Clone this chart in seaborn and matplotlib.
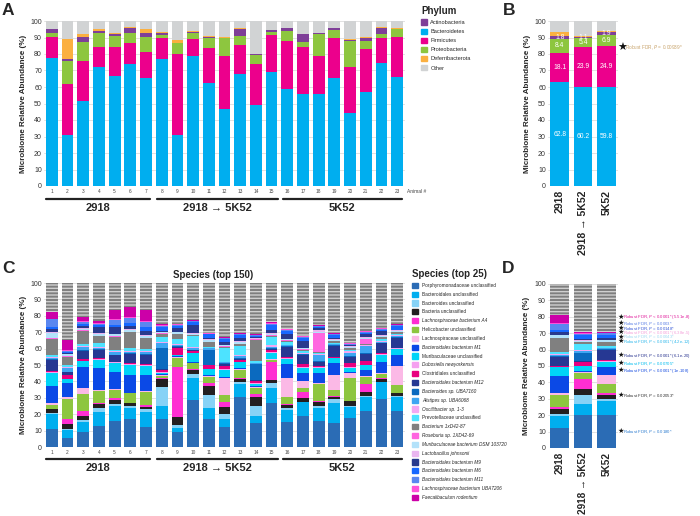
import numpy as np
import pandas as pd
import matplotlib.pyplot as plt
import matplotlib.transforms as mtransforms
from matplotlib.patches import Patch
import seaborn as sns

# %% Data - panel A (phylum per animal, %)
animals = [str(i) for i in range(1, 24)]
bacteroidetes = [77.5, 31, 51.5, 72, 66.5, 74, 65.5, 77, 31, 78.5, 62.5, 46.5, 68, 49, 69, 59, 55.5, 55.5, 65.5, 44.5, 57, 74.5, 66]
firmicutes = [13, 31, 24, 12.5, 18, 12.5, 15.5, 12.5, 49, 10.5, 21, 32, 17.5, 25, 22.5, 29, 28.5, 23, 24.5, 27.5, 26, 15, 24.5]
proteobacteria = [2.5, 14, 12, 8, 6.5, 6, 9.5, 2, 6.5, 3.5, 6, 11, 5.5, 5.5, 2, 6, 3, 13.5, 4.5, 16, 5, 2.5, 4.5]
actinobacteria = [2, 1, 3, 1.5, 1, 3.5, 2, 1.5, 0.3, 1, 1, 0.3, 4, 0.2, 1, 1.5, 5, 0.5, 1, 0.5, 2, 4, 0.3]
deferribacterota = [0.3, 12, 1.5, 1, 1, 0.5, 2.5, 0.3, 1.5, 0.5, 0.2, 0.5, 0.5, 0, 0.2, 0, 0.3, 0.5, 0, 0.3, 0.5, 0.3, 0.5]

# %% Data - panel B (group means, %)
groups = ["2918", "2918 \u2192 5K52", "5K52"]
b_bacteroidetes = [62.8, 60.2, 59.8]
b_firmicutes = [18.1, 23.9, 24.9]
b_proteobacteria = [8.4, 5.4, 6.9]
b_actinobacteria = [1.8, 1.1, 1.9]
b_deferribacterota = [2.5, 0.3, 0.4]

# %% Data - panel C (top 25 species per animal, %), order = legend order
species = ["Porphyromonadaceae unclassified", "Bacteroidales unclassified", "Bacteroides unclassified",
           "Bacteria unclassified", "Lachnospiraceae bacterium A4", "Helicobacter unclassified",
           "Lachnospiraceae unclassified", "Bacteroidales bacterium M1", "Muribaculaceae unclassified",
           "Dubosiella newyorkensis", "Clostridiales unclassified", "Bacteroidales bacterium M12",
           "Bacteroides sp. UBA7160", "Alistipes sp. UBA6068", "Oscillibacter sp. 1-3",
           "Prevotellaceae unclassified", "Bacterium 1xD42-87", "Roseburia sp. 1XD42-69",
           "Muribaculaceae bacterium DSM 103720", "Lactobacillus johnsonii", "Bacteroidales bacterium M9",
           "Bacteroidales bacterium M6", "Bacteroidales bacterium M11", "Lachnospiraceae bacterium UBA7206",
           "Faecalibaculum rodentium"]
species_italic = [0, 0, 0, 0, 1, 0, 0, 1, 0, 1, 0, 1, 1, 1, 1, 0, 1, 1, 1, 1, 1, 1, 1, 1, 1]

c01 = [11, 9, 1, 2, 0.3, 2.5, 1, 10.5, 8, 0.3, 0.5, 7, 0.5, 0.5, 0.5, 1.5, 10, 0.3, 3, 1, 1.5, 1.5, 4.5, 0.3, 4.3]
c02 = [5.7, 4.5, 0.5, 3.3, 3, 12.5, 1, 8.7, 2, 0.3, 2.5, 1.5, 0.5, 2, 1, 1, 5, 0.5, 1, 0.5, 0.5, 0.5, 0.5, 0.5, 6]
c03 = [9.3, 6, 0.9, 2.8, 2.9, 10.7, 3.5, 12.8, 3.4, 0.3, 1.2, 5, 0.5, 1.5, 1, 1, 8, 0.3, 1, 0.5, 1, 1.5, 1, 0.5, 2.7]
c04 = [12.8, 8.3, 2.9, 2, 1, 7.1, 0.9, 13, 5, 0.5, 0.5, 5, 0.5, 1, 0.5, 2.5, 4, 0.3, 1, 0.5, 4, 1, 1, 0.5, 1]
c05 = [15.9, 9.1, 1, 2.7, 1, 5.3, 0.3, 10.3, 5.7, 0.3, 0.3, 3.9, 0.5, 1.5, 0.5, 1, 8, 0.3, 1, 0.5, 4, 1.5, 3, 0.5, 5.5]
c06 = [16.9, 7.1, 1, 1.6, 0.4, 5.7, 0.3, 10.6, 6.7, 0.3, 0.5, 5.5, 0.5, 1, 0.5, 1.5, 10, 0.3, 1, 0.5, 2, 1.5, 3.5, 0.5, 5.7]
c07 = [12.2, 9.3, 1.5, 1.6, 1, 8.1, 0.5, 9.7, 5.5, 0.3, 0.7, 6, 0.5, 1, 0.5, 1.5, 6.3, 0.3, 1, 0.5, 3, 2, 3.5, 0.5, 6.5]
c08 = [17, 8.2, 11.6, 4.5, 0.5, 1.5, 0.5, 0.5, 1, 0.3, 1.5, 0.5, 13, 3, 0.5, 3, 2, 0.3, 0.5, 0.3, 0.5, 2.5, 0.5, 0.5, 0.8]
c09 = [9, 2.4, 2, 5.1, 30.5, 5, 1, 0.3, 0.5, 0.5, 4, 0.5, 0.5, 1, 0.5, 3, 3, 0.3, 1, 0.3, 2, 1.5, 0.5, 0.3, 0.3]
c10 = [28.7, 13.2, 2.4, 2.7, 0.3, 3.7, 0.3, 0.3, 5.7, 0.3, 0.8, 0.5, 0.5, 1, 0.3, 7, 0.5, 0.3, 0.5, 0.3, 5, 2, 0.5, 0.3, 0.3]
c11 = [17, 7, 8, 5.2, 2, 3.7, 0.5, 0.5, 3.5, 0.3, 2, 0.5, 9, 1, 0.3, 0.5, 3, 0.3, 1, 0.3, 1, 2, 0.5, 0.3, 0.3]
c12 = [12.4, 4.6, 3, 4.6, 3, 4.1, 10.2, 0.5, 4.6, 0.3, 2.3, 1, 0.5, 0.5, 0.5, 8, 1, 0.3, 0.5, 0.3, 2, 1.5, 0.5, 0.3, 0.3]
c13 = [30.7, 7.5, 1.6, 1.7, 0.5, 5, 0.5, 0.5, 3.6, 0.5, 0.7, 1, 0.5, 1, 0.5, 6, 1, 0.3, 1, 0.3, 2, 2, 0.5, 0.3, 0.3]
c14 = [14.4, 4.5, 6.3, 5.5, 1.4, 3.7, 1, 0.3, 1.4, 0.3, 1.7, 0.5, 9.5, 0.5, 0.3, 1, 13, 0.3, 0.5, 0.3, 0.5, 0.8, 0.5, 0.3, 0.3]
c15 = [26.6, 9.6, 2.6, 2.1, 11.1, 1, 0.5, 0.3, 3.5, 0.5, 1.6, 0.5, 0.5, 0.5, 1, 5, 1, 0.3, 1, 0.3, 2, 3, 0.5, 0.5, 0.5]
c16 = [15.4, 7.2, 1.4, 1.6, 0.5, 4.2, 12, 8.1, 3.3, 0.3, 0.7, 6.3, 0.5, 0.5, 0.3, 1.5, 1, 0.3, 0.5, 0.3, 3, 2, 0.5, 0.3, 0.3]
c17 = [19.1, 8.1, 0.5, 2.3, 3.7, 2.5, 4, 5.1, 3.1, 0.3, 1.7, 5.6, 0.5, 0.5, 0.3, 1, 1, 0.3, 0.5, 0.5, 4, 2, 0.5, 0.3, 0.3]
c18 = [15.9, 7.7, 1.4, 2.6, 0.3, 10.8, 0.5, 5.7, 3.3, 0.3, 1, 2.3, 0.5, 4, 0.5, 0.5, 0.5, 11.8, 0.5, 1, 1.5, 0.5, 0.5, 0.3, 0.3]
c19 = [14.8, 11.8, 2.4, 1.7, 0.3, 3.8, 9.1, 7.1, 3.1, 0.3, 0.7, 6.7, 0.5, 0.5, 0.3, 0.5, 1, 0.3, 0.5, 0.3, 1, 1.5, 0.5, 0.3, 0.3]
c20 = [17.5, 7.1, 0.5, 2.9, 0.3, 13.5, 3.4, 0.5, 2.6, 0.3, 2.7, 3.5, 0.5, 2, 1.5, 0.5, 1, 0.3, 0.5, 0.3, 0.5, 0.5, 0.5, 0.3, 0.3]
c21 = [22, 8.7, 0.3, 2.3, 4.9, 4.7, 0.5, 3.6, 3, 0.3, 2, 4.7, 0.5, 4, 0.5, 0.5, 0.5, 3, 0.5, 0.3, 2, 1, 0.5, 0.3, 0.3]
c22 = [29.3, 10.1, 0.5, 1.6, 0.3, 2.8, 0.5, 6.8, 4.4, 0.3, 0.5, 6.1, 0.5, 0.5, 0.3, 1.5, 1, 0.3, 0.5, 0.3, 2.5, 1, 0.5, 0.3, 0.3]
c23 = [22, 8.7, 0.5, 1.5, 0.3, 4.8, 11.8, 6.4, 3.8, 0.3, 0.5, 6.1, 0.5, 0.5, 0.3, 1, 1, 0.3, 0.5, 0.3, 0.5, 2, 0.5, 0.3, 0.3]

# %% Data - panel D (group means of top 25 species, %)
d_2918 = [12.4, 7.1, 1.2, 2.9, 1.6, 7.1, 1, 10.8, 5.1, 0.3, 0.5, 5.3, 0.5, 1, 0.5, 1.5, 8, 0.3, 1.5, 0.5, 1.5, 1.5, 3.5, 0.5, 4.7]
d_transfer = [20.1, 6.7, 5.5, 3.7, 5.9, 3.6, 1, 0.5, 3, 0.3, 2.3, 0.5, 5, 1, 0.5, 4, 1, 0.3, 0.5, 0.3, 0.5, 3, 0.5, 0.3, 0.5]
d_5k52 = [20.1, 8.8, 0.8, 2.6, 1.4, 5.1, 5.7, 4.7, 3.4, 0.3, 1, 5.8, 0.5, 0.5, 0.3, 1.5, 2, 0.3, 1, 0.3, 1, 2, 1, 0.3, 0.3]

d_sig_y = [79.7, 76.0, 73.0, 70.3, 67.7, 64.8, 56.3, 51.4, 47.0, 31.9, 9.8]
d_sig_text = ["P < 0.0001* (5.51e-8)", "P = 0.0003*", "P = 0.00148*", "P < 0.0001* (6.38e-5)",
              "P = 0.00043*", "P < 0.0001* (4.2e-12)", "P < 0.0001* (6.1e-20)", "P = 0.00705*",
              "P < 0.0001* (1e-108)", "P = 0.02053*", "P = 0.0180*"]
d_sig_col = ["#E0189A", "#5B80E6", "#3457D6", "#F4A0DA", "#A3DAF2", "#2FB8EC", "#2A3590", "#00BDEF",
             "#1A4FE0", "#333333", "#2E7DD0"]

# %% Styles
phylum_colors = {"Bacteroidetes": "#00AEEF", "Firmicutes": "#EC008C", "Proteobacteria": "#8DC63F",
                 "Actinobacteria": "#7F3F98", "Deferribacterota": "#FBB040", "Other": "#D1D3D4"}
sp_colors = ["#2B6CB5", "#00AEEF", "#86D2F6", "#231F20", "#FF2ED2", "#8DC63F", "#FBB9E6", "#0B49E6",
             "#00D4F7", "#F5A1F0", "#E8007F", "#263893", "#0B6ABF", "#3EA6F2", "#F3A8F3", "#4DE3FF",
             "#808080", "#FF66E0", "#B3E2FA", "#EAB5F0", "#283A8E", "#1768FF", "#5A87F0", "#FF52D8",
             "#CC00A8"]

sns.set_theme(style="white")
plt.rcParams["font.family"] = ["Liberation Sans", "DejaVu Sans"]
plt.rcParams["hatch.linewidth"] = 1.0


def add_ax(fig, l, t, r, b):
    return fig.add_axes([l / 700, 1 - b / 516, (r - l) / 700, (b - t) / 516])


def stack(ax, labels, segs, colors, width, base=None):
    cum = np.cumsum(np.array(segs, dtype=float), axis=1)
    if base is not None:
        sns.barplot(x=labels, y=[100] * len(labels), color=base[0], hatch=base[1], edgecolor=base[2],
                    linewidth=0, width=width, saturation=1, errorbar=None, ax=ax)
    for j in range(cum.shape[1] - 1, -1, -1):
        sns.barplot(x=labels, y=cum[:, j], color=colors[j], width=width, saturation=1,
                    errorbar=None, linewidth=0, ax=ax)
    return cum


def style_ax(ax, ylab_x):
    ax.set_ylim(0, 100)
    ax.set_yticks(range(0, 101, 10))
    ax.yaxis.grid(True, color="#dddddd", lw=0.6)
    ax.set_axisbelow(True)
    sns.despine(ax=ax, left=True, bottom=True)
    ax.tick_params(axis="y", length=0, pad=1.5, labelsize=5, labelcolor="#333333")
    ax.set_ylabel("Microbiome Relative Abundance (%)", fontsize=5.8, fontweight="bold")
    ax.yaxis.set_label_coords(ylab_x, 0.5)
    ax.set_xlabel("")


def group_bar(ax, y_line, y_text):
    tr = ax.get_xaxis_transform()
    spans = [(-0.38, 6.25), (6.7, 14.4), (14.7, 22.3)]
    for (x0, x1), lab in zip(spans, groups):
        ax.plot([x0, x1], [y_line, y_line], color="#222222", lw=1.6, transform=tr, clip_on=False)
        ax.text((x0 + x1) / 2, y_text, lab, transform=tr, ha="center", va="center",
                fontsize=8, fontweight="bold")


fig = plt.figure(figsize=(7, 5.16), dpi=100)

# %% Panel A
axA = add_ax(fig, 44, 21, 405, 186)
phyla_a = np.column_stack([bacteroidetes, firmicutes, proteobacteria, actinobacteria, deferribacterota])
cols_a = [phylum_colors[k] for k in ["Bacteroidetes", "Firmicutes", "Proteobacteria", "Actinobacteria", "Deferribacterota"]]
sns.barplot(x=animals, y=[100] * 23, color=phylum_colors["Other"], width=0.75, saturation=1,
            errorbar=None, linewidth=0, ax=axA)
stack(axA, animals, phyla_a, cols_a, 0.75)
style_ax(axA, -0.046)
axA.set_xlim(-0.5, 22.5)
axA.tick_params(axis="x", length=0, pad=2.5, labelsize=3.4, labelcolor="#444444")
axA.text(22.6, -0.036, "Animal #", transform=axA.get_xaxis_transform(), fontsize=3.5,
         va="center", ha="left", color="#444444")
group_bar(axA, -0.079, -0.135)

leg = fig.legend([Patch(color=phylum_colors[k]) for k in ["Actinobacteria", "Bacteroidetes", "Firmicutes",
                                                          "Proteobacteria", "Deferribacterota", "Other"]],
                 ["Actinobacteria", "Bacteroidetes", "Firmicutes", "Proteobacteria", "Deferribacterota", "Other"],
                 loc="upper left", bbox_to_anchor=(421 / 700, 1 - 6 / 516), frameon=False, title="Phylum",
                 title_fontproperties={"weight": "bold", "size": 7}, fontsize=4.1, handlelength=1.1,
                 handleheight=1.1, handletextpad=0.55, labelspacing=0.6, borderpad=0, borderaxespad=0,
                 alignment="left")

# %% Panel B
axB = add_ax(fig, 548, 21, 618, 186)
phyla_b = np.column_stack([b_bacteroidetes, b_firmicutes, b_proteobacteria, b_actinobacteria, b_deferribacterota])
sns.barplot(x=groups, y=[100] * 3, color=phylum_colors["Other"], width=0.8, saturation=1,
            errorbar=None, linewidth=0, ax=axB)
cum_b = stack(axB, groups, phyla_b, cols_a, 0.8)
style_ax(axB, -0.243)
axB.set_xlim(-0.5, 2.5)
axB.set_xticks(range(3))
axB.set_xticklabels(groups, rotation=90, fontsize=7.6, fontweight="bold")
axB.tick_params(axis="x", length=0, pad=3)
for i in range(3):
    for j in range(4):
        axB.text(i, cum_b[i, j] - phyla_b[i, j] / 2, f"{phyla_b[i, j]:.1f}", ha="center", va="center",
                 color="white", fontsize=4.9)
trB = mtransforms.blended_transform_factory(axB.transAxes, axB.transData)
axB.text(0.995, 83.5, "\u2605", transform=trB, fontsize=8, va="center", ha="left", color="#111111")
axB.text(1.1, 83.5, "Robust FDR, $\\it{P}$ = 0.00939*", transform=trB, fontsize=3.4, va="center",
         ha="left", color="#C9A56E")

# %% Panel C
axC = add_ax(fig, 44, 283, 405, 447)
c_rows = [c01, c02, c03, c04, c05, c06, c07, c08, c09, c10, c11, c12, c13, c14, c15, c16, c17, c18,
          c19, c20, c21, c22, c23]
stack(axC, animals, c_rows, sp_colors, 0.75, base=("#7e7e7e", "-----", "#cfcfcf"))
style_ax(axC, -0.046)
axC.set_xlim(-0.5, 22.5)
axC.tick_params(axis="x", length=0, pad=2.5, labelsize=3.4, labelcolor="#444444")
axC.text(10.3, 104.8, "Species (top 150)", ha="center", va="center", fontsize=7, fontweight="bold",
         clip_on=False)
group_bar(axC, -0.073, -0.128)

leg2 = fig.legend([Patch(color=c) for c in sp_colors], species, loc="upper left",
                  bbox_to_anchor=(412 / 700, 1 - 269 / 516), frameon=False, title="Species (top 25)",
                  title_fontproperties={"weight": "bold", "size": 7}, fontsize=3.4, handlelength=1.3,
                  handleheight=1.3, handletextpad=0.85, labelspacing=0.78, borderpad=0, borderaxespad=0,
                  alignment="left")
for t, it in zip(leg2.get_texts(), species_italic):
    if it:
        t.set_style("italic")

# %% Panel D
axD = add_ax(fig, 548, 284, 618, 448)
stack(axD, groups, [d_2918, d_transfer, d_5k52], sp_colors, 0.8, base=("#7e7e7e", "-----", "#cfcfcf"))
style_ax(axD, -0.257)
axD.set_xlim(-0.5, 2.5)
axD.set_xticks(range(3))
axD.set_xticklabels(groups, rotation=90, fontsize=7.2, fontweight="bold")
axD.tick_params(axis="x", length=0, pad=3)
trD = mtransforms.blended_transform_factory(axD.transAxes, axD.transData)
for y, txt, c in zip(d_sig_y, d_sig_text, d_sig_col):
    axD.text(1.0, y, "\u2605", transform=trD, fontsize=5.2, va="center", ha="left", color="#111111")
    axD.text(1.075, y, "Robust FDR, $\\it{" + txt[0] + "}$" + txt[1:], transform=trD, fontsize=3.1,
             va="center", ha="left", color=c)

# %% Panel letters
for lab, x, y in [("A", 2, 3), ("B", 503, 3), ("C", 2, 261), ("D", 502, 261)]:
    fig.text(x / 700, 1 - y / 516, lab, fontsize=12.5, fontweight="bold", va="top", ha="left")

plt.savefig("out.png", dpi=100)
